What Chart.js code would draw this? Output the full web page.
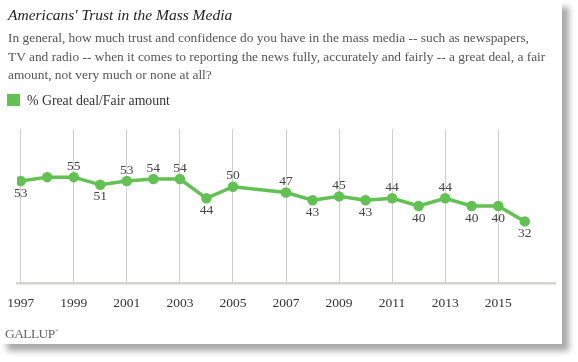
<!DOCTYPE html>
<html>
<head>
<meta charset="utf-8">
<script src="https://cdn.jsdelivr.net/npm/chart.js@4.4.0/dist/chart.umd.min.js"></script>
<style>
  body { margin: 0; background: #fff; }
  #card {
    position: absolute; left: 0; top: 0; width: 562px; height: 344px;
    background: #fff; box-shadow: 7px 7px 6px #aaa;
  }
  #chart { position: absolute; left: 0; top: 0; }
  .txt { position: absolute; font-family: "Liberation Serif", serif; white-space: nowrap; }
  #title { left: 8px; top: 6px; font-size: 15.5px; font-style: italic; color: #222; }
  #sub { left: 8px; top: 29px; font-size: 13.4px; line-height: 18.5px; color: #555; }
  #legend { left: 7px; top: 93px; font-size: 13.8px; color: #333; }
  #legend span.box { display: inline-block; width: 13px; height: 12px; background: #62c152; vertical-align: -1px; margin-right: 7px; }
  #logo { left: 5px; top: 326px; font-size: 13.5px; color: #666; letter-spacing: -0.6px; }
  #logo sup { font-size: 5px; vertical-align: 6px; }
</style>
</head>
<body>
<div id="card">
  <canvas id="chart" width="562" height="344"></canvas>
  <div class="txt" id="title">Americans' Trust in the Mass Media</div>
  <div class="txt" id="sub">In general, how much trust and confidence do you have in the mass media -- such as newspapers,<br>TV and radio -- when it comes to reporting the news fully, accurately and fairly -- a great deal, a fair<br>amount, not very much or none at all?</div>
  <div class="txt" id="legend"><span class="box"></span>% Great deal/Fair amount</div>
  <div class="txt" id="logo">GALLUP<sup>®</sup></div>
</div>
<script>
const years = [1997, 1998, 1999, 2000, 2001, 2002, 2003, 2004, 2005, 2006, 2007, 2008, 2009, 2010, 2011, 2012, 2013, 2014, 2015, 2016];
const trust = [53, 55, 55, 51, 53, 54, 54, 44, 50, null, 47, 43, 45, 43, 44, 40, 44, 40, 40, 32];
const tickYears = [1997, 1999, 2001, 2003, 2005, 2007, 2009, 2011, 2013, 2015];
// where each value label sits relative to its point (null = no label)
const labelSide = ["below", null, "above", "below", "above", "above", "above", "below", "above", null,
  "above", "below", "above", "below", "above", "below", "above", "below", "below", "below"];

const green = "#62c152";

const valueLabels = {
  id: "valueLabels",
  afterDatasetsDraw(chart) {
    const ctx = chart.ctx;
    const meta = chart.getDatasetMeta(0);
    ctx.save();
    ctx.font = "13.5px 'Liberation Serif', serif";
    ctx.fillStyle = "#444";
    ctx.textAlign = "center";
    ctx.textBaseline = "middle";
    meta.data.forEach((pt, i) => {
      const side = labelSide[i];
      if (!side || trust[i] == null) return;
      const dy = side === "above" ? -11 : 12;
      ctx.fillText(String(trust[i]), pt.x, pt.y + dy);
    });
    ctx.restore();
  },
};

new Chart(document.getElementById("chart"), {
  type: "line",
  data: {
    datasets: [
      {
        label: "% Great deal/Fair amount",
        data: years.map((y, i) => ({ x: y, y: trust[i] })),
        borderColor: green,
        backgroundColor: green,
        borderWidth: 3.5,
        pointRadius: 3.5,
        pointHoverRadius: 3.5,
        spanGaps: true,
        tension: 0,
      },
    ],
  },
  plugins: [valueLabels],
  options: {
    responsive: false,
    animation: false,
    events: [],
    layout: { padding: { left: 17, right: 5, top: 129, bottom: 31 } },
    plugins: { legend: { display: false }, tooltip: { enabled: false } },
    scales: {
      x: {
        type: "linear",
        min: 1996.86,
        max: 2017.14,
        afterBuildTicks: (scale) => {
          scale.ticks = tickYears.map((v) => ({ value: v }));
        },
        afterFit: (scale) => {
          scale.height = 30;
          scale.paddingLeft = 0;
          scale.paddingRight = 0;
        },
        grid: { color: "#cfcfcf", lineWidth: 1, drawTicks: false },
        border: { display: true, color: "#d4d4cc", width: 2.5 },
        ticks: {
          padding: 12,
          autoSkip: false,
          maxRotation: 0,
          color: "#333",
          font: { family: "'Liberation Serif', serif", size: 13.5 },
          callback: (v) => String(v),
        },
      },
      y: {
        display: false,
        min: 0,
        max: 80,
      },
    },
  },
});
</script>
</body>
</html>
